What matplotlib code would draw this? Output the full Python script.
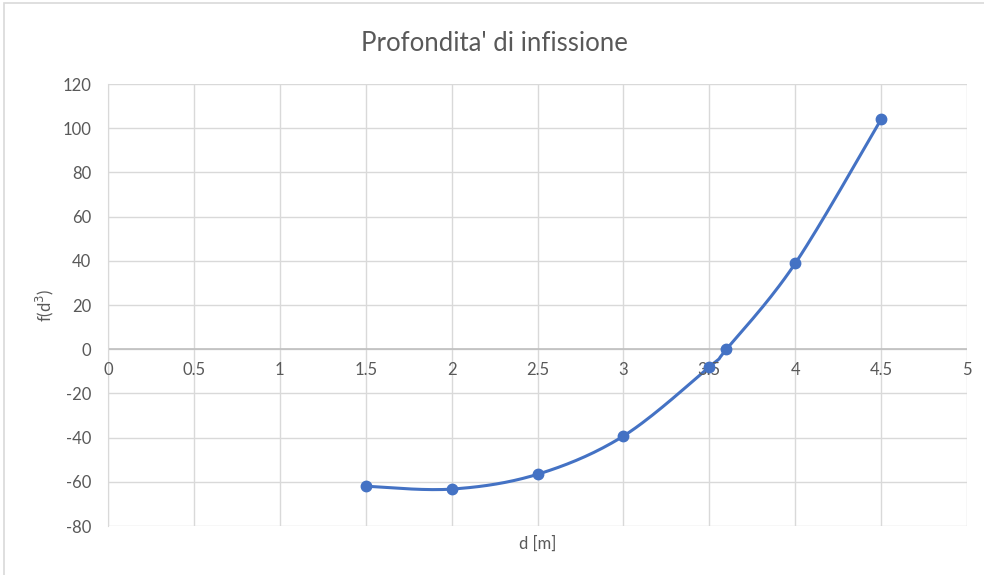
import numpy as np
import matplotlib
matplotlib.use("Agg")
import matplotlib.pyplot as plt
from matplotlib.patches import Rectangle

# values
d_vals = [1.5, 2.0, 2.5, 3.0, 3.5, 3.6, 4.0, 4.5]
f_vals = [-62.0, -63.3, -56.6, -39.3, -8.0, 0.0, 38.8, 104.0]
x_ticks = [0, 0.5, 1, 1.5, 2, 2.5, 3, 3.5, 4, 4.5, 5]
y_ticks = [-80, -60, -40, -20, 0, 20, 40, 60, 80, 100, 120]

blue = "#4472C4"
txt = "#595959"
grid_c = "#D9D9D9"

plt.rcParams['font.family'] = ['Lato', 'DejaVu Sans']


def smooth(x, y, n=30):
    # Excel-like smoothed line: Bezier segments with Catmull-Rom style controls
    x = np.asarray(x, float)
    y = np.asarray(y, float)
    px = np.concatenate([[x[0]], x, [x[-1]]])
    py = np.concatenate([[y[0]], y, [y[-1]]])
    xs, ys = [], []
    t = np.linspace(0, 1, n)
    for i in range(1, len(px) - 2):
        p0 = np.array([px[i], py[i]])
        p3 = np.array([px[i + 1], py[i + 1]])
        c1 = p0 + (np.array([px[i + 1], py[i + 1]]) - np.array([px[i - 1], py[i - 1]])) / 6
        c2 = p3 - (np.array([px[i + 2], py[i + 2]]) - np.array([px[i], py[i]])) / 6
        b = ((1 - t) ** 3)[:, None] * p0 + (3 * (1 - t) ** 2 * t)[:, None] * c1 \
            + (3 * (1 - t) * t ** 2)[:, None] * c2 + (t ** 3)[:, None] * p3
        xs.extend(b[:, 0])
        ys.extend(b[:, 1])
    return xs, ys


fig = plt.figure(figsize=(9.84, 5.75), dpi=100)
ax = fig.add_axes([0.1098, 0.0852, 0.8729, 0.7687])

sx, sy = smooth(d_vals, f_vals)
ax.plot(sx, sy, color=blue, lw=2.2, zorder=3, solid_capstyle='round')
ax.plot(d_vals, f_vals, 'o', color=blue, ms=7.5, zorder=4)

ax.set_xlim(0, 5)
ax.set_ylim(-80, 120)
ax.set_xticks(x_ticks)
ax.set_yticks(y_ticks)
ax.grid(True, color=grid_c, lw=1)
ax.set_axisbelow(True)
for s in ['top', 'right', 'bottom']:
    ax.spines[s].set_visible(False)
ax.spines['left'].set_color(grid_c)
ax.axhline(0, color="#BFBFBF", lw=1.2, zorder=2)

ax.tick_params(length=0, colors=txt, labelsize=12, pad=12)
ax.set_xticklabels([])
ax.set_yticklabels([f"{v:g}" for v in y_ticks])
# x tick labels sit just under the horizontal axis at y = 0
for xv in x_ticks:
    ax.annotate(f"{xv:g}", (xv, 0), xytext=(0, -9), textcoords='offset points',
                ha='center', va='top', color=txt, fontsize=12)

ax.set_xlabel("d [m]", color=txt, fontsize=12, labelpad=-5)
ax.set_ylabel("f(d$^3$)", color=txt, fontsize=12, labelpad=5)
fig.text(0.5025, 0.925, "Profondita' di infissione", ha='center', va='center',
         color=txt, fontsize=18.5)

fig.patches.append(Rectangle((0.004, -0.01), 1.1, 1.005, transform=fig.transFigure,
                             fill=False, edgecolor="#D9D9D9", lw=1.2))

fig.savefig("out.png", dpi=100)
